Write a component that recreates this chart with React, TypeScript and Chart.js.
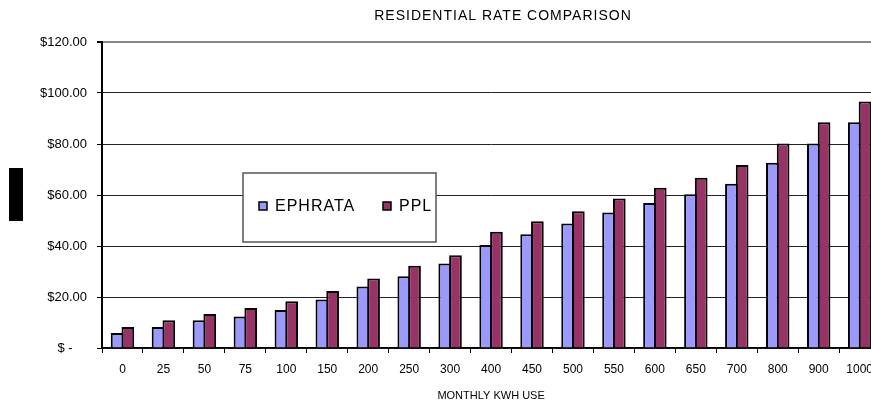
import React, { useEffect, useRef } from "react";
import { Chart, registerables } from "chart.js";

Chart.register(...registerables);

const categories = ["0", "25", "50", "75", "100", "150", "200", "250", "300", "400", "450", "500", "550", "600", "650", "700", "800", "900", "1000"];
const ephrata = [5.9, 8.2, 10.9, 12.4, 14.9, 19.0, 24.1, 28.1, 33.1, 40.4, 44.6, 48.8, 53.1, 56.9, 60.3, 64.4, 72.6, 80.2, 88.5];
const ppl = [8.2, 10.9, 13.3, 15.7, 18.3, 22.4, 27.3, 32.3, 36.4, 45.6, 49.7, 53.6, 58.6, 62.8, 66.8, 71.8, 80.2, 88.5, 96.7];
const yTicks = [0, 20, 40, 60, 80, 100, 120];
const seriesNames = ["EPHRATA", "PPL"];
const seriesColors = ["#9999FF", "#993366"];
const chartTitle = "RESIDENTIAL RATE COMPARISON";
const xTitle = "MONTHLY KWH USE";

const FONT = "Arial, 'Liberation Sans', sans-serif";

const decorPlugin = {
  id: "decor",
  afterDraw(chart: any) {
    const ctx = chart.ctx as CanvasRenderingContext2D;
    const ca = chart.chartArea;
    ctx.save();
    // chart title
    ctx.fillStyle = "#000";
    ctx.font = `14px ${FONT}`;
    (ctx as any).letterSpacing = "1px";
    ctx.textAlign = "center";
    ctx.textBaseline = "alphabetic";
    ctx.fillText(chartTitle, 503, 20);

    // redacted y-axis title block
    ctx.fillStyle = "#000";
    ctx.fillRect(9, 168, 14, 53);

    // legend box
    const bx = ca.left + 141;
    const by = ca.top + 131;
    const bw = 193;
    const bh = 69;
    ctx.fillStyle = "#fff";
    ctx.fillRect(bx, by, bw, bh);
    ctx.strokeStyle = "#555";
    ctx.lineWidth = 1.5;
    ctx.strokeRect(bx, by, bw, bh);

    ctx.font = `16px ${FONT}`;
    (ctx as any).letterSpacing = "1px";
    ctx.textAlign = "left";
    const itemX = [bx + 16, bx + 140];
    const baseY = by + 38;
    seriesNames.forEach((name, i) => {
      const sx = itemX[i];
      ctx.fillStyle = seriesColors[i];
      ctx.fillRect(sx, baseY - 9, 8, 8);
      ctx.strokeStyle = "#000";
      ctx.lineWidth = 1.5;
      ctx.strokeRect(sx, baseY - 9, 8, 8);
      ctx.fillStyle = "#000";
      ctx.fillText(name, sx + 16, baseY);
    });
    ctx.restore();
  },
};

export default function App() {
  const ref = useRef<HTMLCanvasElement | null>(null);

  useEffect(() => {
    if (!ref.current) return;
    const chart = new Chart(ref.current, {
      type: "bar",
      data: {
        labels: categories,
        datasets: [
          {
            label: seriesNames[0],
            data: ephrata,
            backgroundColor: seriesColors[0],
            borderColor: "#000",
            borderWidth: 2,
            barPercentage: 1.18,
            categoryPercentage: 0.525,
          },
          {
            label: seriesNames[1],
            data: ppl,
            backgroundColor: seriesColors[1],
            borderColor: "#000",
            borderWidth: 2,
            barPercentage: 1.18,
            categoryPercentage: 0.525,
          },
        ],
      },
      options: {
        responsive: false,
        animation: false,
        devicePixelRatio: 1,
        layout: { padding: { top: 42, left: 0, right: 0, bottom: 0 } },
        plugins: {
          legend: { display: false },
          title: { display: false },
          tooltip: { enabled: false },
        },
        scales: {
          x: {
            offset: true,
            grid: {
              display: true,
              drawOnChartArea: false,
              drawTicks: true,
              tickLength: 5,
              tickColor: "#000",
              offset: true,
            },
            border: { display: true, color: "#000", width: 1.5 },
            ticks: {
              color: "#000",
              font: { family: FONT, size: 12 },
              padding: 9,
              maxRotation: 0,
              autoSkip: false,
            },
            title: {
              display: true,
              text: xTitle,
              color: "#000",
              font: { family: FONT, size: 11 },
              padding: { top: 0, bottom: 1.5 },
            },
            afterFit: (s: any) => {
              s.height = 56;
            },
          },
          y: {
            min: 0,
            max: 120,
            afterBuildTicks: (s: any) => {
              s.ticks = yTicks.map((v) => ({ value: v }));
            },
            grid: {
              color: (c: any) => (c.tick && c.tick.value === 120 ? "#888" : "#222"),
              lineWidth: (c: any) => (c.tick && c.tick.value === 120 ? 2 : 1),
              tickLength: 5,
              tickColor: "#000",
            },
            border: { display: true, color: "#000", width: 2 },
            ticks: {
              color: "#000",
              font: { family: FONT, size: 13 },
              padding: 10,
              callback: (v: any) => (Number(v) === 0 ? "$ -    " : "$" + Number(v).toFixed(2)),
            },
            afterFit: (s: any) => {
              s.width = 102;
            },
          },
        },
      },
      plugins: [decorPlugin],
    });
    return () => chart.destroy();
  }, []);

  return (
    <div
      style={{
        position: "fixed",
        left: 0,
        top: 0,
        width: 871,
        height: 404,
        overflow: "hidden",
        background: "#fff",
      }}
    >
      <canvas ref={ref} width={882} height={404} style={{ display: "block" }} />
    </div>
  );
}
